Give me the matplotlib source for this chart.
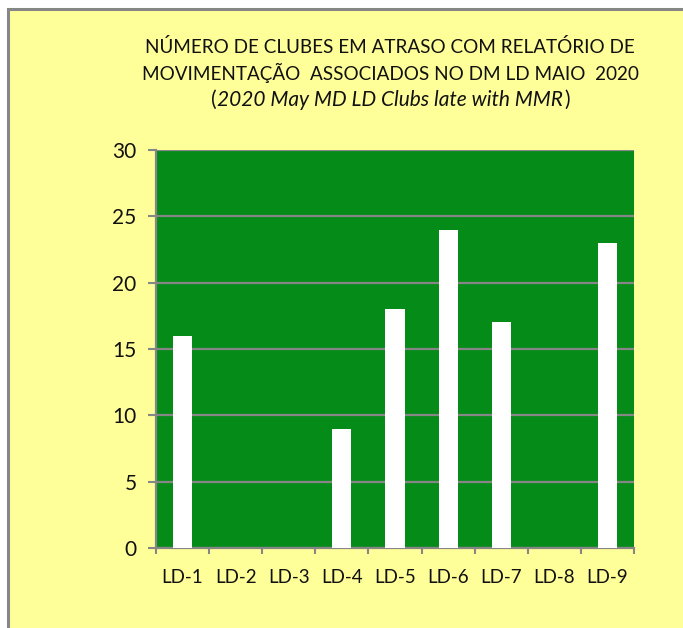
import matplotlib
matplotlib.use("Agg")
import matplotlib.pyplot as plt
from matplotlib.patches import Rectangle
import numpy as np

categories = ["LD-1", "LD-2", "LD-3", "LD-4", "LD-5", "LD-6", "LD-7", "LD-8", "LD-9"]
values = [16, 0, 0, 9, 18, 24, 17, 0, 23]
yticks = [0, 5, 10, 15, 20, 25, 30]
title_lines = ["NÚMERO DE CLUBES EM ATRASO COM RELATÓRIO DE",
               "MOVIMENTAÇÃO  ASSOCIADOS NO DM LD MAIO  2020"]
subtitle = "2020 May MD LD Clubs late with MMR"

W, H = 683, 628
YELLOW = "#FFFF99"
GREEN = "#058B17"
GRAY = "#868686"
TXT = "#111111"
FONT = "Lato"

fig = plt.figure(figsize=(W / 100, H / 100), dpi=100, facecolor="white")
bg = Rectangle((7.5 / W, -0.1), 1.2, 1.1 - 9.5 / H, transform=fig.transFigure,
               facecolor=YELLOW, edgecolor=GRAY, linewidth=2.2, zorder=-10)
fig.patches.append(bg)

ax = fig.add_axes([156 / W, 1 - 548 / H, (634 - 156) / W, (548 - 150) / H])
ax.set_facecolor(GREEN)
x = np.arange(len(categories))
ax.bar(x, values, width=0.36, color="white", zorder=3)
ax.set_xlim(-0.5, len(categories) - 0.5)
ax.set_ylim(0, 30)
ax.set_yticks(yticks)
ax.set_xticks(x)
ax.set_xticklabels(categories, fontsize=13.5, family=FONT, color=TXT)
ax.set_yticklabels([str(v) for v in yticks], fontsize=15, family=FONT, color=TXT)
ax.set_xticks(np.arange(-0.5, len(categories)), minor=True)
ax.tick_params(axis="x", which="major", length=0, pad=15)
ax.tick_params(axis="x", which="minor", length=4, width=1.5, color=GRAY)
ax.tick_params(axis="y", which="major", length=6, width=1.5, color=GRAY, pad=8)
ax.yaxis.grid(True, color=GRAY, linewidth=1.6, zorder=1)
ax.set_axisbelow(True)
for s in ["top", "right"]:
    ax.spines[s].set_visible(False)
for s in ["left", "bottom"]:
    ax.spines[s].set_color(GRAY)
    ax.spines[s].set_linewidth(1.6)

cx = 390 / W
fig.text(cx, 1 - 47 / H, title_lines[0], ha="center", va="center", fontsize=13.6, family=FONT, color=TXT)
fig.text(cx, 1 - 73 / H, title_lines[1], ha="center", va="center", fontsize=13.6, family=FONT, color=TXT)
t3 = fig.text(cx, 1 - 100 / H, subtitle, ha="center", va="center", fontsize=15, family=FONT,
              style="italic", color=TXT)
fig.canvas.draw()
bb = t3.get_window_extent(fig.canvas.get_renderer())
fig.text(bb.x0 / W - 0.001, 1 - 100 / H, "(", ha="right", va="center", fontsize=15, family=FONT, color=TXT)
fig.text(bb.x1 / W + 0.002, 1 - 100 / H, ")", ha="left", va="center", fontsize=15, family=FONT, color=TXT)

fig.savefig("out.png", dpi=100, facecolor="white")
